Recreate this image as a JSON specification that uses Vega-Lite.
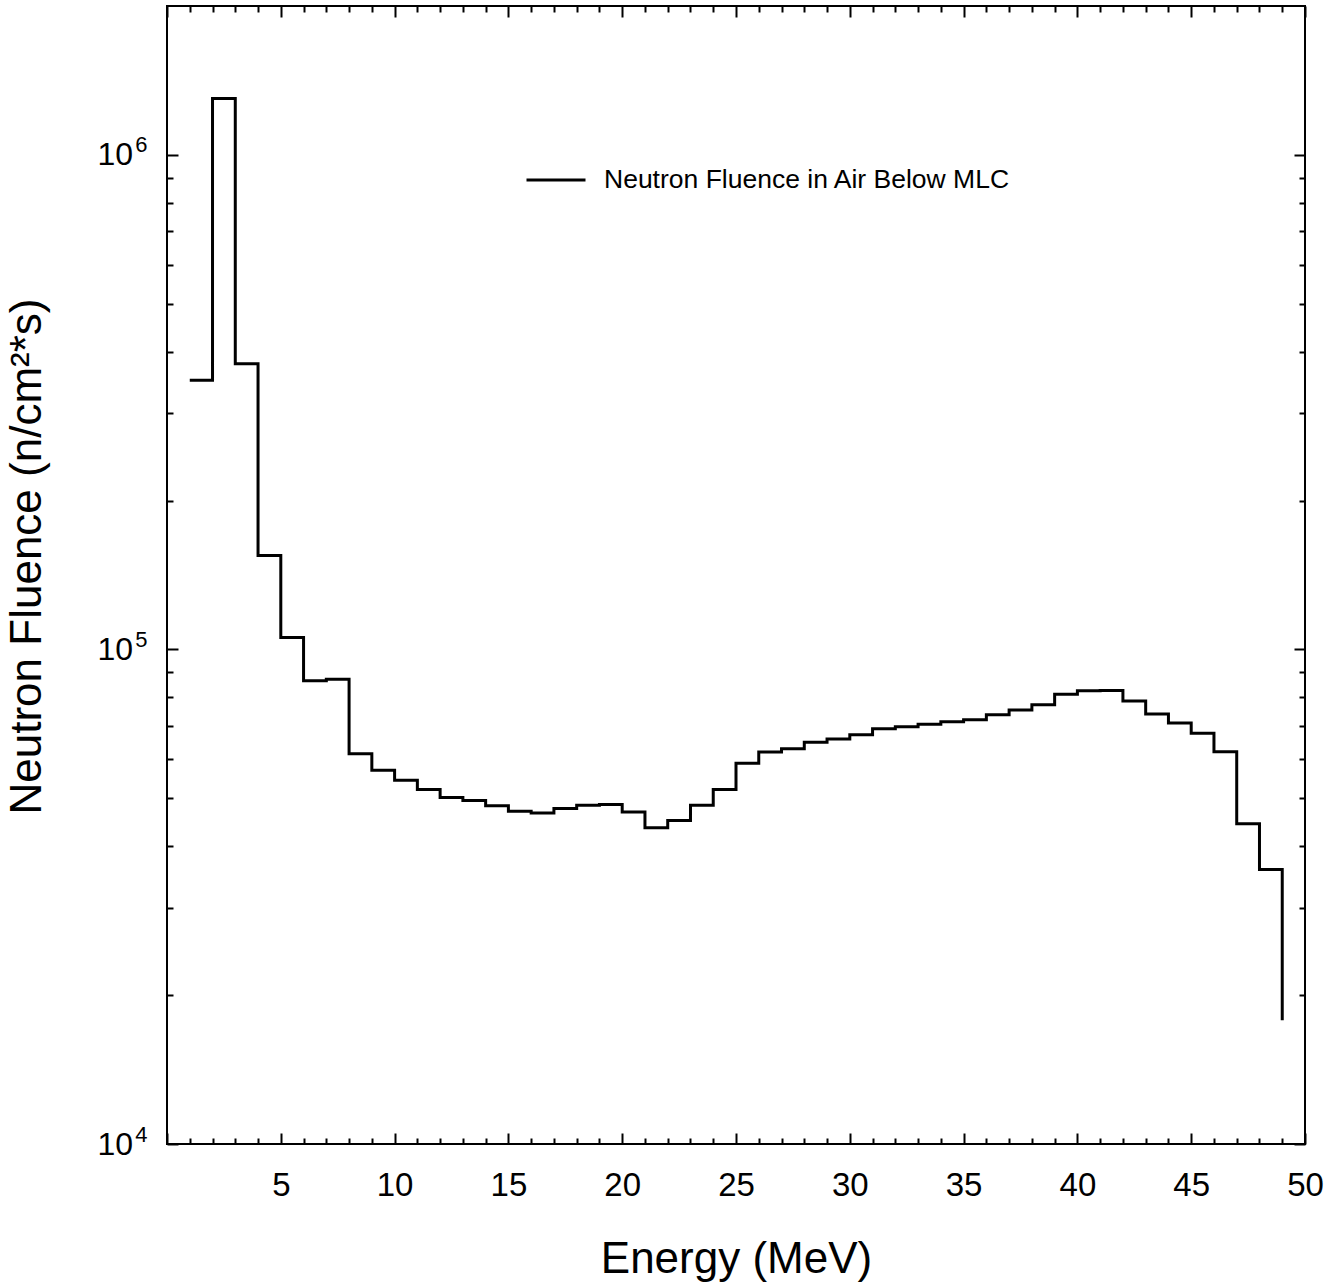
{
  "$schema": "https://vega.github.io/schema/vega-lite/v6.json",
  "width": 1138,
  "height": 1138,
  "autosize": {"type": "none"},
  "padding": {"left": 167, "top": 6, "right": 25, "bottom": 138},
  "config": {
    "font": "Liberation Sans",
    "view": {"stroke": "black", "strokeWidth": 2},
    "axis": {"grid": false, "domain": false, "tickColor": "black", "tickWidth": 2, "labelColor": "black", "titleColor": "black", "titleFontWeight": "normal"}
  },
  "data": {
    "values": [
      {"energy": 1, "fluence": 350000, "series": "Neutron Fluence in Air Below MLC"},
      {"energy": 2, "fluence": 1300000, "series": "Neutron Fluence in Air Below MLC"},
      {"energy": 3, "fluence": 378000, "series": "Neutron Fluence in Air Below MLC"},
      {"energy": 4, "fluence": 154800, "series": "Neutron Fluence in Air Below MLC"},
      {"energy": 5, "fluence": 105700, "series": "Neutron Fluence in Air Below MLC"},
      {"energy": 6, "fluence": 86400, "series": "Neutron Fluence in Air Below MLC"},
      {"energy": 7, "fluence": 87000, "series": "Neutron Fluence in Air Below MLC"},
      {"energy": 8, "fluence": 61500, "series": "Neutron Fluence in Air Below MLC"},
      {"energy": 9, "fluence": 57000, "series": "Neutron Fluence in Air Below MLC"},
      {"energy": 10, "fluence": 54400, "series": "Neutron Fluence in Air Below MLC"},
      {"energy": 11, "fluence": 52100, "series": "Neutron Fluence in Air Below MLC"},
      {"energy": 12, "fluence": 50200, "series": "Neutron Fluence in Air Below MLC"},
      {"energy": 13, "fluence": 49500, "series": "Neutron Fluence in Air Below MLC"},
      {"energy": 14, "fluence": 48300, "series": "Neutron Fluence in Air Below MLC"},
      {"energy": 15, "fluence": 47100, "series": "Neutron Fluence in Air Below MLC"},
      {"energy": 16, "fluence": 46700, "series": "Neutron Fluence in Air Below MLC"},
      {"energy": 17, "fluence": 47700, "series": "Neutron Fluence in Air Below MLC"},
      {"energy": 18, "fluence": 48400, "series": "Neutron Fluence in Air Below MLC"},
      {"energy": 19, "fluence": 48600, "series": "Neutron Fluence in Air Below MLC"},
      {"energy": 20, "fluence": 46900, "series": "Neutron Fluence in Air Below MLC"},
      {"energy": 21, "fluence": 43600, "series": "Neutron Fluence in Air Below MLC"},
      {"energy": 22, "fluence": 45100, "series": "Neutron Fluence in Air Below MLC"},
      {"energy": 23, "fluence": 48400, "series": "Neutron Fluence in Air Below MLC"},
      {"energy": 24, "fluence": 52100, "series": "Neutron Fluence in Air Below MLC"},
      {"energy": 25, "fluence": 58900, "series": "Neutron Fluence in Air Below MLC"},
      {"energy": 26, "fluence": 62000, "series": "Neutron Fluence in Air Below MLC"},
      {"energy": 27, "fluence": 63000, "series": "Neutron Fluence in Air Below MLC"},
      {"energy": 28, "fluence": 64900, "series": "Neutron Fluence in Air Below MLC"},
      {"energy": 29, "fluence": 65900, "series": "Neutron Fluence in Air Below MLC"},
      {"energy": 30, "fluence": 67200, "series": "Neutron Fluence in Air Below MLC"},
      {"energy": 31, "fluence": 69100, "series": "Neutron Fluence in Air Below MLC"},
      {"energy": 32, "fluence": 69800, "series": "Neutron Fluence in Air Below MLC"},
      {"energy": 33, "fluence": 70600, "series": "Neutron Fluence in Air Below MLC"},
      {"energy": 34, "fluence": 71400, "series": "Neutron Fluence in Air Below MLC"},
      {"energy": 35, "fluence": 72100, "series": "Neutron Fluence in Air Below MLC"},
      {"energy": 36, "fluence": 73800, "series": "Neutron Fluence in Air Below MLC"},
      {"energy": 37, "fluence": 75400, "series": "Neutron Fluence in Air Below MLC"},
      {"energy": 38, "fluence": 77300, "series": "Neutron Fluence in Air Below MLC"},
      {"energy": 39, "fluence": 81200, "series": "Neutron Fluence in Air Below MLC"},
      {"energy": 40, "fluence": 82500, "series": "Neutron Fluence in Air Below MLC"},
      {"energy": 41, "fluence": 82600, "series": "Neutron Fluence in Air Below MLC"},
      {"energy": 42, "fluence": 78700, "series": "Neutron Fluence in Air Below MLC"},
      {"energy": 43, "fluence": 74000, "series": "Neutron Fluence in Air Below MLC"},
      {"energy": 44, "fluence": 71000, "series": "Neutron Fluence in Air Below MLC"},
      {"energy": 45, "fluence": 67700, "series": "Neutron Fluence in Air Below MLC"},
      {"energy": 46, "fluence": 62100, "series": "Neutron Fluence in Air Below MLC"},
      {"energy": 47, "fluence": 44400, "series": "Neutron Fluence in Air Below MLC"},
      {"energy": 48, "fluence": 35900, "series": "Neutron Fluence in Air Below MLC"},
      {"energy": 49, "fluence": 17800, "series": "Neutron Fluence in Air Below MLC"}
    ]
  },
  "layer": [
    {
      "mark": {"type": "line", "interpolate": "step-after", "strokeWidth": 3, "clip": true},
      "encoding": {
        "x": {"field": "energy", "type": "quantitative", "scale": {"domain": [0, 50], "nice": false, "zero": false},
          "axis": {"orient": "bottom", "values": [5, 10, 15, 20, 25, 30, 35, 40, 45, 50], "ticks": false, "labelFontSize": 33, "labelPadding": 25, "labelBaseline": "top", "labelFlush": false, "labelOverlap": false,
            "title": "Energy (MeV)", "titleFontSize": 44, "titleX": 569, "titleY": 128, "titleBaseline": "alphabetic", "titleAlign": "center"}},
        "y": {"field": "fluence", "type": "quantitative", "scale": {"type": "log", "domain": [10000, 2000000], "nice": false},
          "axis": {"orient": "left", "values": [10000, 100000, 1000000], "ticks": false, "labelFontSize": 32, "labelPadding": 34.5, "labelFlush": false, "labelOverlap": false,
            "labelExpr": "'10'",
            "title": "Neutron Fluence (n/cm²*s)", "titleFontSize": 44, "titleX": -127, "titleY": 550, "titleBaseline": "alphabetic", "titleAlign": "center", "titleAngle": 270}},
        "color": {"field": "series", "type": "nominal", "scale": {"range": ["black"]},
          "legend": {"title": null, "orient": "none", "legendX": 358, "legendY": 143, "padding": 0, "symbolType": "stroke", "symbolSize": 3481, "symbolStrokeWidth": 3, "symbolStrokeColor": "black", "labelFontSize": 26.5, "labelOffset": 17, "labelColor": "black", "labelLimit": 1000}}
      }
    },
    {
      "mark": {"type": "point", "opacity": 0},
      "encoding": {
        "x": {"field": "energy", "type": "quantitative", "axis": {"orient": "bottom", "values": [0, 5, 10, 15, 20, 25, 30, 35, 40, 45, 50], "tickSize": -11, "labels": false, "title": null}},
        "y": {"field": "fluence", "type": "quantitative", "axis": {"orient": "left", "values": [10000, 100000, 1000000], "tickSize": -11, "labels": false, "title": null}}
      }
    },
    {
      "mark": {"type": "point", "opacity": 0},
      "encoding": {
        "x": {"field": "energy", "type": "quantitative", "axis": {"orient": "bottom", "values": [1,2,3,4,6,7,8,9,11,12,13,14,16,17,18,19,21,22,23,24,26,27,28,29,31,32,33,34,36,37,38,39,41,42,43,44,46,47,48,49], "tickSize": -6, "labels": false, "title": null}},
        "y": {"field": "fluence", "type": "quantitative", "axis": {"orient": "left", "values": [20000,30000,40000,50000,60000,70000,80000,90000,200000,300000,400000,500000,600000,700000,800000,900000], "tickSize": -6, "labels": false, "title": null}}
      }
    },
    {
      "mark": {"type": "point", "opacity": 0},
      "encoding": {
        "x": {"field": "energy", "type": "quantitative", "axis": {"orient": "top", "values": [0, 5, 10, 15, 20, 25, 30, 35, 40, 45, 50], "tickSize": -11, "labels": false, "title": null}},
        "y": {"field": "fluence", "type": "quantitative", "axis": {"orient": "left", "values": [10000, 100000, 1000000], "ticks": false, "labelFontSize": 22, "labelPadding": 20, "labelOffset": -10, "labelFlush": false, "labelOverlap": false, "labelExpr": "datum.value == 10000 ? '4' : datum.value == 100000 ? '5' : '6'", "title": null}}
      }
    },
    {
      "mark": {"type": "point", "opacity": 0},
      "encoding": {
        "x": {"field": "energy", "type": "quantitative", "axis": {"orient": "top", "values": [1,2,3,4,6,7,8,9,11,12,13,14,16,17,18,19,21,22,23,24,26,27,28,29,31,32,33,34,36,37,38,39,41,42,43,44,46,47,48,49], "tickSize": -6, "labels": false, "title": null}},
        "y": {"field": "fluence", "type": "quantitative", "axis": {"orient": "right", "values": [10000, 100000, 1000000], "tickSize": -11, "labels": false, "title": null}}
      }
    },
    {
      "mark": {"type": "point", "opacity": 0},
      "encoding": {
        "x": {"field": "energy", "type": "quantitative", "axis": null},
        "y": {"field": "fluence", "type": "quantitative", "axis": {"orient": "right", "values": [20000,30000,40000,50000,60000,70000,80000,90000,200000,300000,400000,500000,600000,700000,800000,900000], "tickSize": -6, "labels": false, "title": null}}
      }
    }
  ],
  "resolve": {"axis": {"x": "independent", "y": "independent"}}
}
